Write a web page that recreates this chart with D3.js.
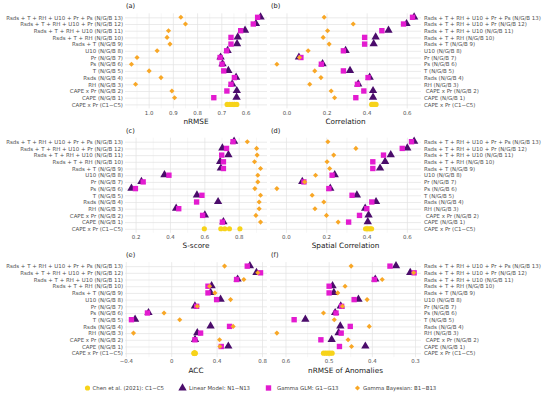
<!DOCTYPE html>
<html>
<head>
<meta charset="utf-8">
<script src="https://cdn.jsdelivr.net/npm/d3@7"></script>
<style>
body { margin: 0; background: #fff; }
text { font-family: "DejaVu Sans", sans-serif; }
</style>
</head>
<body>
<div id="chart"></div>
<script>
// Predictor sets, top to bottom
const categories = [
    "Rsds + T + RH + U10 + Pr + Ps (N/G/B 13)",
    "Rsds + T + RH + U10 + Pr (N/G/B 12)",
    "Rsds + T + RH + U10 (N/G/B 11)",
    "Rsds + T + RH (N/G/B 10)",
    "Rsds + T (N/G/B 9)",
    "U10 (N/G/B 8)",
    "Pr (N/G/B 7)",
    "Ps (N/G/B 6)",
    "T (N/G/B 5)",
    "Rsds (N/G/B 4)",
    "RH (N/G/B 3)",
    " CAPE x Pr (N/G/B 2)",
    "CAPE (N/G/B 1)",
    "CAPE x Pr (C1\u2212C5)"
];

// Values for models 13 .. 1 (same order as categories), Chen C1..C5
const nrmseLinear = [0.538, 0.557, 0.602, 0.632, 0.635, 0.674, 0.703, 0.695, 0.671, 0.639, 0.655, 0.636, 0.637];
const nrmseGlm    = [0.550, 0.568, 0.620, 0.660, 0.660, 0.678, 0.705, 0.697, 0.690, 0.646, 0.660, 0.677, 0.731];
const nrmseBayes  = [0.867, 0.848, 0.918, 0.924, 0.912, 0.965, 1.048, 1.071, 0.998, 0.949, 1.054, 0.904, 0.893];
const nrmseChen   = [0.676, 0.665, 0.655, 0.645, 0.636];

const corLinear = [0.637, 0.599, 0.509, 0.445, 0.435, 0.295, 0.062, 0.180, 0.317, 0.415, 0.358, 0.432, 0.432];
const corGlm    = [0.629, 0.584, 0.476, 0.390, 0.390, 0.284, 0.072, 0.174, 0.284, 0.407, 0.354, 0.386, 0.346];
const corBayes  = [0.188, 0.333, 0.205, 0.183, 0.213, 0.108, 0.065, -0.048, 0.141, 0.172, 0.116, 0.223, 0.240];
const corChen   = [0.425, 0.430, 0.436, 0.441, 0.447];

const sLinear = [0.773, 0.705, 0.740, 0.692, 0.696, 0.368, 0.234, 0.176, 0.557, 0.680, 0.436, 0.603, 0.711];
const sGlm    = [0.767, 0.729, 0.701, 0.711, 0.711, 0.394, 0.244, 0.199, 0.586, 0.555, 0.451, 0.590, 0.705];
const sBayes  = [0.850, 0.904, 0.907, 0.892, 0.927, 0.911, 0.911, 0.894, 0.927, 0.919, 0.919, 0.900, 0.927];
const sChen   = [0.600, 0.696, 0.719, 0.746, 0.807];

const spLinear = [0.636, 0.602, 0.520, 0.492, 0.467, 0.242, 0.081, 0.220, 0.352, 0.447, 0.393, 0.410, 0.406];
const spGlm    = [0.623, 0.577, 0.484, 0.431, 0.431, 0.229, 0.089, 0.213, 0.328, 0.426, 0.401, 0.365, 0.311];
const spBayes  = [0.208, 0.347, 0.237, 0.204, 0.217, 0.147, 0.093, -0.045, 0.130, 0.188, 0.144, 0.201, 0.259];
const spChen   = [0.395, 0.402, 0.410, 0.418, 0.425];

const accLinear = [0.693, 0.751, 0.585, 0.356, 0.347, 0.435, 0.209, -0.200, -0.318, 0.347, 0.230, 0.210, 0.503];
const accGlm    = [0.670, 0.787, 0.576, 0.324, 0.324, 0.400, 0.224, -0.209, -0.350, 0.514, 0.259, 0.209, 0.441];
const accBayes  = [0.470, 0.763, 0.640, 0.338, 0.385, 0.523, 0.230, -0.063, 0.075, 0.546, -0.332, 0.426, 0.429];
const accChen   = [0.200, 0.203, 0.206, 0.209, 0.212];

const anLinear = [0.344, 0.311, 0.392, 0.491, 0.488, 0.431, 0.472, 0.485, 0.554, 0.473, 0.477, 0.493, 0.415];
const anGlm    = [0.358, 0.302, 0.394, 0.499, 0.499, 0.441, 0.470, 0.483, 0.580, 0.450, 0.471, 0.518, 0.475];
const anBayes  = [0.448, 0.303, 0.376, 0.462, 0.479, 0.411, 0.468, 0.512, 0.487, 0.406, 0.620, 0.455, 0.447];
const anChen   = [0.512, 0.507, 0.502, 0.497, 0.492];

// Tick values per panel
const ticksA = [1.0, 0.9, 0.8, 0.7, 0.6];
const ticksB = [0.0, 0.2, 0.4, 0.6];
const ticksC = [0.2, 0.4, 0.6, 0.8];
const ticksD = [0.0, 0.2, 0.4, 0.6];
const ticksE = [-0.4, 0, 0.4, 0.8];
const ticksF = [0.6, 0.5, 0.4, 0.3];

const legendLabels = ["Chen et al. (2021): C1\u2212C5", "Linear Model: N1\u2212N13", "Gamma GLM: G1\u2212G13", "Gamma Bayesian: B1\u2212B13"];

const colors = { chen: "#f7d31a", linear: "#4b0c6b", glm: "#e31bd0", bayes: "#f8a726" };

const fmt1 = d3.format(".1f");
const panels = [
    { tag: "(a)", title: "nRMSE", col: 0, row: 0, rev: true, ticks: ticksA, fmt: fmt1,
      linear: nrmseLinear, glm: nrmseGlm, bayes: nrmseBayes, chen: nrmseChen },
    { tag: "(b)", title: "Correlation", col: 1, row: 0, rev: false, ticks: ticksB, fmt: fmt1,
      linear: corLinear, glm: corGlm, bayes: corBayes, chen: corChen },
    { tag: "(c)", title: "S-score", col: 0, row: 1, rev: false, ticks: ticksC, fmt: fmt1,
      linear: sLinear, glm: sGlm, bayes: sBayes, chen: sChen },
    { tag: "(d)", title: "Spatial Correlation", col: 1, row: 1, rev: false, ticks: ticksD, fmt: fmt1,
      linear: spLinear, glm: spGlm, bayes: spBayes, chen: spChen },
    { tag: "(e)", title: "ACC", col: 0, row: 2, rev: false, ticks: ticksE, fmt: d => d === 0 ? "0" : fmt1(d),
      linear: accLinear, glm: accGlm, bayes: accBayes, chen: accChen },
    { tag: "(f)", title: "nRMSE of Anomalies", col: 1, row: 2, rev: true, ticks: ticksF, fmt: fmt1,
      linear: anLinear, glm: anGlm, bayes: anBayes, chen: anChen }
];

const width = 550, height = 397;
const cols = [{ left: 125, right: 267 }, { left: 270, right: 421 }];
const top0 = 13.3, rowGap = 124.4, panelH = 95.1;

const svg = d3.select("#chart")
    .append("svg")
    .attr("width", width)
    .attr("height", height);

// size the category labels so the longest one is ~117px wide
const probe = svg.append("text").attr("font-size", "10px").text(categories[0]);
const labelFont = 10 * 117 / probe.node().getComputedTextLength();
probe.remove();

const sym = {
    linear: d3.symbol(d3.symbolTriangle, 30)(),
    glm: d3.symbol(d3.symbolSquare, 29)(),
    bayes: d3.symbol(d3.symbolSquare, 13)(),
    chen: d3.symbol(d3.symbolCircle, 21)()
};

panels.forEach(function(p) {
    const col = cols[p.col];
    const top = top0 + p.row * rowGap;
    const w = col.right - col.left;

    const all = p.linear.concat(p.glm, p.bayes, p.chen);
    const [lo, hi] = d3.extent(all);
    const pad = (hi - lo) * 0.05;
    const x = d3.scaleLinear()
        .domain(p.rev ? [hi + pad, lo - pad] : [lo - pad, hi + pad])
        .range([col.left, col.right]);
    const y = d3.scalePoint()
        .domain(categories)
        .range([top, top + panelH])
        .padding(0.6);

    const g = svg.append("g");

    // minor vertical grid (midpoints between ticks)
    const step = Math.abs(p.ticks[1] - p.ticks[0]);
    const tmin = d3.min(p.ticks), tmax = d3.max(p.ticks);
    const minor = d3.range(tmin - step / 2, tmax + step, step)
        .filter(v => v >= Math.min(...x.domain()) && v <= Math.max(...x.domain()));
    g.append("g")
        .attr("transform", "translate(0," + (top + panelH) + ")")
        .call(d3.axisBottom(x).tickValues(minor).tickSize(-panelH).tickFormat(""))
        .call(s => {
            s.select(".domain").remove();
            s.selectAll("line").attr("stroke", "#efefef").attr("stroke-width", 0.5);
        });

    // major vertical grid + tick labels
    g.append("g")
        .attr("transform", "translate(0," + (top + panelH) + ")")
        .call(d3.axisBottom(x).tickValues(p.ticks).tickSize(-panelH).tickPadding(2.3).tickFormat(p.fmt))
        .call(s => {
            s.select(".domain").remove();
            s.selectAll("line").attr("stroke", "#e2e2e2").attr("stroke-width", 0.7);
            s.selectAll("text").attr("fill", "#505050").attr("font-size", labelFont + "px");
        });

    // horizontal grid + category labels
    const yAxis = p.col === 0 ? d3.axisLeft(y).tickSize(-w).tickPadding(2)
                              : d3.axisRight(y).tickSize(-w).tickPadding(3);
    g.append("g")
        .attr("transform", "translate(" + (p.col === 0 ? col.left : col.right) + ",0)")
        .call(yAxis)
        .call(s => {
            s.select(".domain").remove();
            s.selectAll("line").attr("stroke", "#e2e2e2").attr("stroke-width", 0.7);
            s.selectAll("text").attr("fill", "#505050").attr("font-size", labelFont + "px")
                .style("white-space", "pre");
        });

    // axis title
    g.append("text")
        .attr("x", (col.left + col.right) / 2)
        .attr("y", top + panelH + 15.5)
        .attr("text-anchor", "middle")
        .attr("font-size", "7.3px")
        .attr("fill", "#1a1a1a")
        .text(p.title);

    // panel tag
    g.append("text")
        .attr("x", col.left + 1)
        .attr("y", top - 5)
        .attr("font-size", "6.6px")
        .attr("fill", "#1a1a1a")
        .text(p.tag);

    // points: triangles, squares, diamonds
    const models = categories.slice(0, 13);
    g.selectAll(".tri").data(p.linear).enter().append("path")
        .attr("d", sym.linear)
        .attr("transform", (d, i) => "translate(" + x(d) + "," + (y(models[i]) - 0.3) + ")")
        .attr("fill", colors.linear);
    g.selectAll(".sq").data(p.glm).enter().append("path")
        .attr("d", sym.glm)
        .attr("transform", (d, i) => "translate(" + x(d) + "," + y(models[i]) + ")")
        .attr("fill", colors.glm);
    g.selectAll(".dia").data(p.bayes).enter().append("path")
        .attr("d", sym.bayes)
        .attr("transform", (d, i) => "translate(" + x(d) + "," + y(models[i]) + ") rotate(45)")
        .attr("fill", colors.bayes);
    g.selectAll(".chen").data(p.chen).enter().append("path")
        .attr("d", sym.chen)
        .attr("transform", d => "translate(" + x(d) + "," + y(categories[13]) + ")")
        .attr("fill", colors.chen);
});

// Legend
const legendY = 388;
const legendX = [87.5, 182.5, 268.5, 357.5];
const legendKeys = ["chen", "linear", "glm", "bayes"];
const legend = svg.selectAll(".legend")
    .data(legendLabels)
    .enter().append("g")
    .attr("class", "legend")
    .attr("transform", (d, i) => "translate(" + legendX[i] + "," + legendY + ")");

legend.append("path")
    .attr("d", (d, i) => sym[legendKeys[i]])
    .attr("transform", (d, i) => legendKeys[i] === "bayes" ? "rotate(45)" : null)
    .attr("fill", (d, i) => colors[legendKeys[i]]);

legend.append("text")
    .attr("x", (d, i) => [5, 6.5, 8.5, 5.5][i])
    .attr("dy", "0.35em")
    .attr("font-size", "5.4px")
    .attr("fill", "#444")
    .text(d => d);
</script>
</body>
</html>
